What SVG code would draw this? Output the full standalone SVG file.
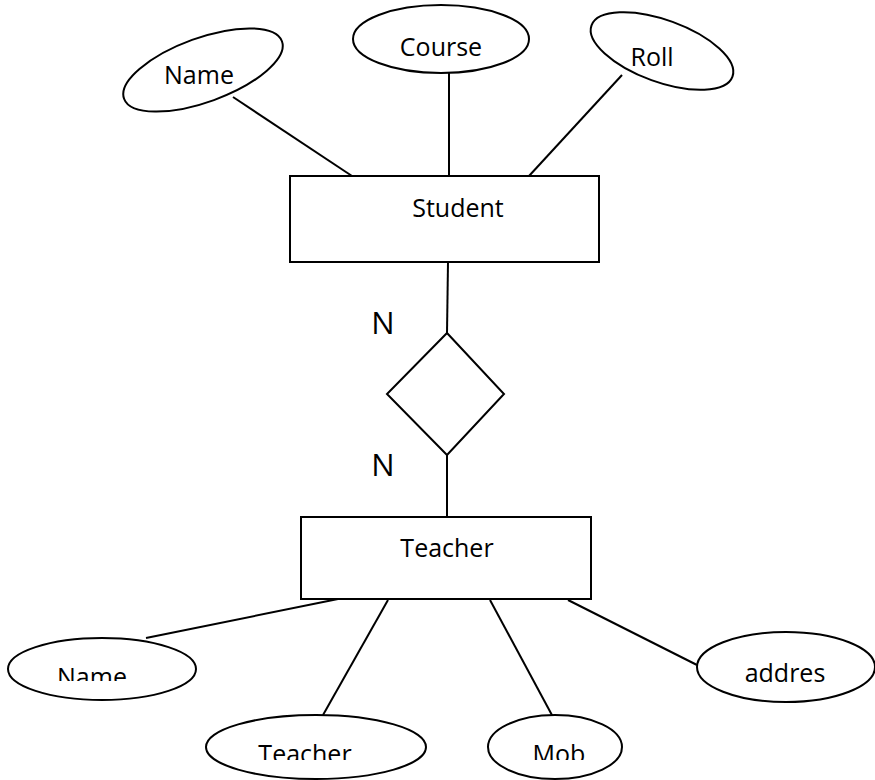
<svg xmlns="http://www.w3.org/2000/svg" width="875" height="780" viewBox="0 0 875 780">
<style>
.s{fill:#fff;stroke:#000;stroke-width:2}
.c line{stroke:#000;stroke-width:2}
text{font-family:"Open Sans","Liberation Sans",sans-serif;font-size:25px;fill:#000;text-anchor:middle}
.n{font-size:31px}
</style>
<defs>
<clipPath id="clipA"><rect x="0" y="600" width="300" height="81"/></clipPath>
<clipPath id="clipB"><rect x="200" y="700" width="450" height="60"/></clipPath>
</defs>
<rect width="875" height="780" fill="#fff"/>
<g class="c" id="connectors">
<line x1="233" y1="97" x2="352" y2="176"/>
<line x1="449" y1="73" x2="449" y2="176"/>
<line x1="622" y1="75" x2="529" y2="176"/>
<line x1="448" y1="262" x2="447" y2="333"/>
<line x1="447" y1="455" x2="447" y2="517"/>
<line x1="338" y1="599" x2="146" y2="638"/>
<line x1="388" y1="600" x2="323" y2="715"/>
<line x1="490" y1="600" x2="553" y2="717"/>
<line x1="568" y1="600" x2="697" y2="665"/>
</g>
<g id="attr-name-top"><ellipse class="s" cx="203" cy="70" rx="84" ry="32" transform="rotate(-20 203 70)"/><text x="199" y="84">Name</text></g>
<g id="attr-course"><ellipse class="s" cx="441" cy="39" rx="88" ry="34"/><text x="441" y="56">Course</text></g>
<g id="attr-roll"><ellipse class="s" cx="662" cy="51" rx="75" ry="31" transform="rotate(20 662 51)"/><text x="652" y="66">Roll</text></g>
<g id="student"><rect class="s" x="290" y="176" width="309" height="86"/><text x="458" y="217">Student</text></g>
<g id="relationship"><polygon class="s" points="447,333 504,394 447,455 387,394"/></g>
<text class="n" x="383" y="334">N</text>
<text class="n" x="383" y="476">N</text>
<g id="teacher"><rect class="s" x="301" y="517" width="290" height="82"/><text x="447" y="557">Teacher</text></g>
<g id="attr-name-bottom"><ellipse class="s" cx="102" cy="669" rx="94" ry="31"/><text x="92" y="686" clip-path="url(#clipA)">Name</text></g>
<g id="attr-teacher"><ellipse class="s" cx="316" cy="747" rx="110" ry="32"/><text x="305" y="763" clip-path="url(#clipB)">Teacher</text></g>
<g id="attr-mob"><ellipse class="s" cx="555" cy="747" rx="67" ry="32"/><text x="559" y="763" clip-path="url(#clipB)">Mob</text></g>
<g id="attr-addres"><ellipse class="s" cx="786" cy="667" rx="89" ry="35"/><text x="785" y="682">addres</text></g>
</svg>
